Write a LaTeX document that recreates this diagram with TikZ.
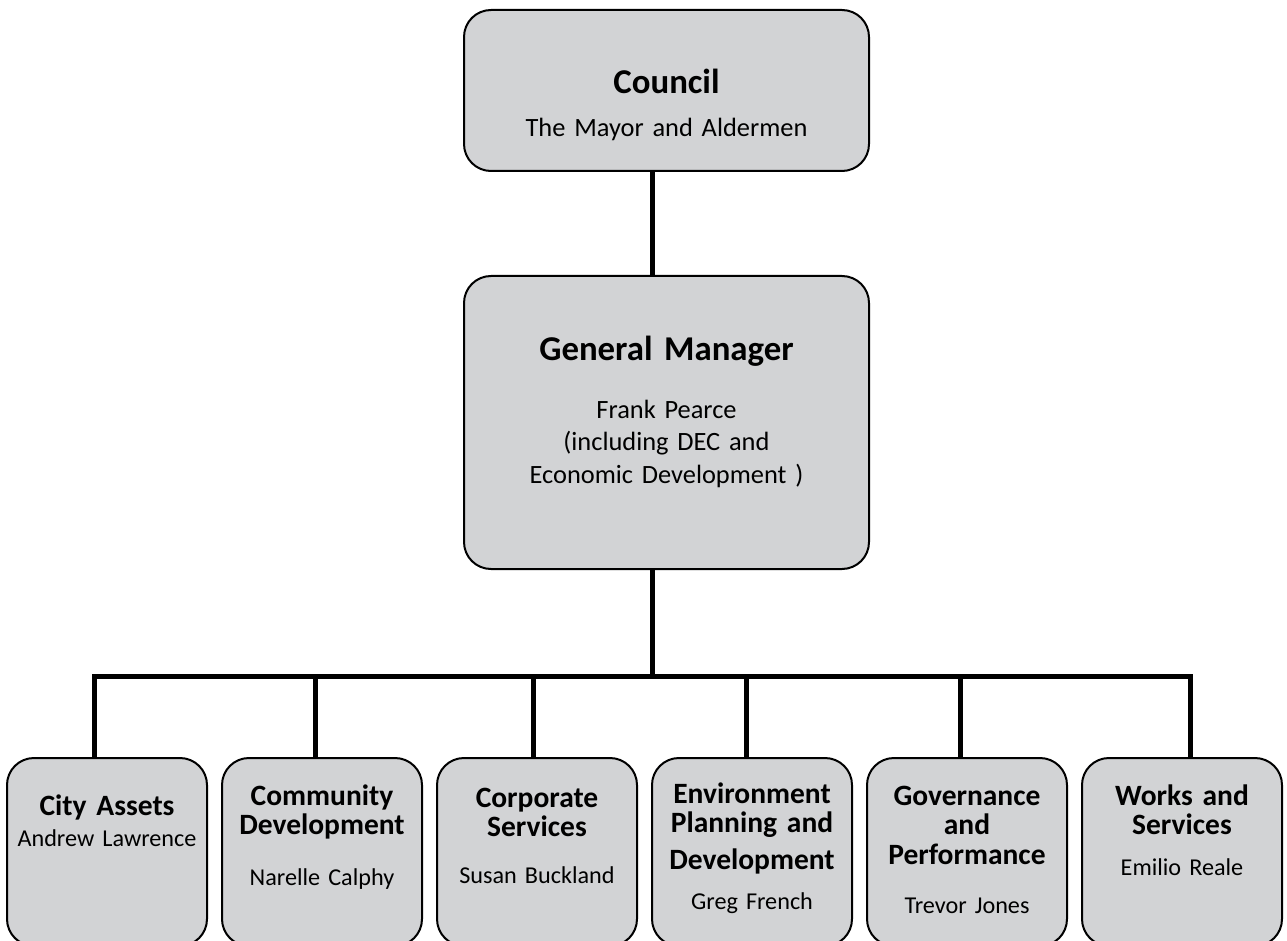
\documentclass[tikz,border=0pt]{standalone}
\usepackage{fontspec}
\setmainfont{Carlito}
\usetikzlibrary{positioning}
\definecolor{boxgray}{HTML}{D2D3D5}
\tikzset{
  unit/.style={rectangle,rounded corners=27pt,draw=black,line width=2pt,fill=boxgray,inner sep=0pt,outer sep=0pt},
  topunit/.style={unit,minimum width=405pt},
  deptunit/.style={unit,minimum width=200pt,minimum height=188pt},
  toptitle/.style={font=\fontsize{34.8}{40}\selectfont\bfseries,text width=380pt,align=center,inner sep=0pt,anchor=base},
  topsub/.style={font=\fontsize{26.4}{32.5}\selectfont,text width=380pt,align=center,inner sep=0pt,anchor=base},
  depttitle/.style={font=\fontsize{29.5}{29.5}\selectfont\bfseries,text width=198pt,align=center,inner sep=0pt,anchor=base},
  deptname/.style={font=\fontsize{24.2}{30}\selectfont,text width=198pt,align=center,inner sep=0pt,anchor=base},
  link/.style={line width=5pt,draw=black},
}

\begin{document}
\begin{tikzpicture}[x=1pt,y=-1pt]
  \useasboundingbox (0,0) rectangle (1287,941);
  \clip (0,0) rectangle (1287,941);
  % council and general manager
  \node[topunit,minimum height=161pt] (council) at (666.5,90.5) {};
  \node[topunit,minimum height=293pt,below=105pt of council] (gm) {};
  \node[toptitle] (councilhead) at ([yshift=-84pt]council.north) {Council};
  \node[topsub] (councilsub) at ([yshift=-127pt]council.north) {The Mayor and Aldermen};
  \node[toptitle] (gmhead) at ([yshift=-84pt]gm.north) {General Manager};
  \node[topsub] (gmsub) at ([yshift=-142pt]gm.north) {Frank Pearce\\(including DEC and\\Economic Development )};

  % departments
  \node[deptunit] (assets) at (107,852) {};
  \node[deptunit,right=15pt of assets] (community) {};
  \node[deptunit,right=15pt of community] (corporate) {};
  \node[deptunit,right=15pt of corporate] (environment) {};
  \node[deptunit,right=15pt of environment] (governance) {};
  \node[deptunit,right=15pt of governance] (works) {};

  \node[depttitle] (assetshead) at ([yshift=-57pt]assets.north) {City Assets};
  \node[deptname] (assetsname) at ([yshift=-88pt]assets.north) {Andrew Lawrence};
  \node[depttitle] (communityhead) at ([yshift=-47pt]community.north) {Community\\Development};
  \node[deptname] (communityname) at ([yshift=-127pt]community.north) {Narelle Calphy};
  \node[depttitle] (corporatehead) at ([yshift=-49pt]corporate.north) {Corporate\\Services};
  \node[deptname] (corporatename) at ([yshift=-125pt]corporate.north) {Susan Buckland};
  \node[depttitle] (environmenthead) at ([yshift=-45pt]environment.north) {Environment\\Planning and\\[7pt]Development};
  \node[deptname] (environmentname) at ([yshift=-151pt]environment.north) {Greg French};
  \node[depttitle] (governancehead) at ([yshift=-47pt]governance.north) {Governance\\and\\Performance};
  \node[deptname] (governancename) at ([yshift=-155pt]governance.north) {Trevor Jones};
  \node[depttitle] (workshead) at ([yshift=-47pt]works.north) {Works and\\Services};
  \node[deptname] (worksname) at ([yshift=-117pt]works.north) {Emilio Reale};

  % reporting lines
  \coordinate (spine) at (652,676);
  \coordinate (d1) at (94,676);
  \coordinate (d2) at (315,676);
  \coordinate (d3) at (533,676);
  \coordinate (d4) at (746,676);
  \coordinate (d5) at (960,676);
  \coordinate (d6) at (1190,676);
  \draw[link] (spine |- council.south) -- (spine |- gm.north);
  \draw[link] (spine |- gm.south) -- (spine);
  \draw[link] (d1 |- assets.north) -- (d1) -- (d6) -- (d6 |- works.north);
  \foreach \d/\u in {d2/community,d3/corporate,d4/environment,d5/governance}
    \draw[link] (\d) -- (\d |- \u.north);
\end{tikzpicture}
\end{document}
